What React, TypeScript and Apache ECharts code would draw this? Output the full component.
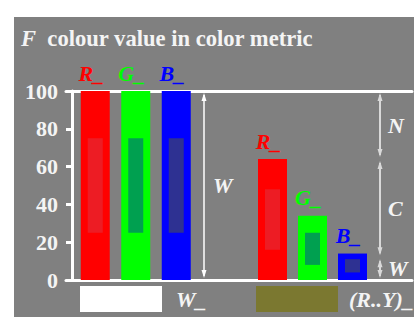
import React, { useEffect, useRef } from "react";
import * as echarts from "echarts";

// ---- data ----
const categories = ["R_", "G_", "B_"];
const barColors = ["#ff0000", "#00ff00", "#0000ff"];
const innerColors = ["#ed1c24", "#00a050", "#2e3192"];
const whiteValues = [100, 100, 100];
const whiteInnerLow = [25, 25, 25];
const whiteInnerHigh = [75, 75, 75];
const mixValues = [64, 34, 14];
const mixInnerLow = [16, 8, 4];
const mixInnerHigh = [48, 25, 11];
const yMin = 0;
const yMax = 100;
const yInterval = 20;
const rightBreaks = [100, 64, 12, 0];
const rightLabels = ["N", "C", "W"];
const legendLabels = ["W_", "(R..Y)_"];
const legendColors = ["#ffffff", "#7b7830"];

const FONT = "Liberation Serif, Times New Roman, serif";

export default function App() {
  const ref = useRef<HTMLDivElement>(null);
  useEffect(() => {
    document.body.style.margin = "0";
    const chart = echarts.init(ref.current!, null, { renderer: "svg" });

    const innerSeries = (axis: number, lo: number[], hi: number[]) => ({
      type: "custom",
      xAxisIndex: axis,
      yAxisIndex: axis,
      z: 5,
      encode: { x: 0, y: [1, 2] },
      data: lo.map((l, i) => [i, l, hi[i]]),
      renderItem: (params: any, api: any) => {
        const c = params.dataIndex;
        const p0 = api.coord([c, api.value(1)]);
        const p1 = api.coord([c, api.value(2)]);
        const w = 15;
        return {
          type: "rect",
          shape: { x: p0[0] - w / 2, y: p1[1], width: w, height: p0[1] - p1[1] },
          style: { fill: innerColors[c] },
        };
      },
    });

    const barSeries = (axis: number, values: number[]) => ({
      type: "bar",
      xAxisIndex: axis,
      yAxisIndex: axis,
      barWidth: 29,
      data: values.map((v, i) => ({
        value: v,
        itemStyle: { color: barColors[i] },
        label: { color: barColors[i] },
      })),
      label: {
        show: true,
        position: "top",
        distance: 7,
        offset: [-4, 0],
        formatter: (p: any) => categories[p.dataIndex],
        fontFamily: FONT,
        fontSize: 22,
        fontWeight: "bold",
        fontStyle: "italic",
      },
    });

    const option: any = {
      animation: false,
      backgroundColor: "#ffffff",
      grid: [
        { left: 75, width: 121.5, top: 91, height: 189 },
        { left: 252.5, width: 120, top: 91, height: 189 },
        { left: 66, right: 2, top: 91, height: 189 },
      ],
      xAxis: [
        { type: "category", gridIndex: 0, data: categories, show: false },
        { type: "category", gridIndex: 1, data: categories, show: false },
        {
          type: "value", gridIndex: 2, min: 0, max: 1, position: "bottom",
          axisLine: { show: true, lineStyle: { color: "#ffffff", width: 3 } },
          axisTick: { show: false }, axisLabel: { show: false }, splitLine: { show: false },
        },
        {
          type: "value", gridIndex: 2, min: 0, max: 1, position: "top",
          axisLine: { show: true, lineStyle: { color: "#ffffff", width: 3 } },
          axisTick: { show: false }, axisLabel: { show: false }, splitLine: { show: false },
        },
      ],
      yAxis: [
        {
          type: "value", gridIndex: 0, min: yMin, max: yMax, interval: yInterval, offset: 3,
          axisLine: { show: true, lineStyle: { color: "#ffffff", width: 3 } },
          axisTick: { show: true, length: 6, lineStyle: { color: "#ffffff", width: 3 } },
          axisLabel: {
            color: "#f4f4f4", fontFamily: FONT, fontSize: 22, fontWeight: "bold", margin: 14,
          },
          splitLine: { show: false },
        },
        { type: "value", gridIndex: 1, min: yMin, max: yMax, show: false },
        { type: "value", gridIndex: 2, min: 0, max: 1, show: false },
      ],
      series: [
        barSeries(0, whiteValues),
        innerSeries(0, whiteInnerLow, whiteInnerHigh),
        barSeries(1, mixValues),
        innerSeries(1, mixInnerLow, mixInnerHigh),
      ],
    };
    chart.setOption(option);

    const py = (v: number) => chart.convertToPixel({ yAxisIndex: 0 }, v) as number;
    const arrow = (x: number, yTop: number, yBot: number, color: string, lw: number) => {
      const hl = 8;
      const hw = 2.5;
      return [
        { type: "line", shape: { x1: x, y1: yTop + 2, x2: x, y2: yBot - 2 }, style: { stroke: color, lineWidth: lw }, z: 10 },
        { type: "polygon", shape: { points: [[x, yTop], [x - hw, yTop + hl], [x + hw, yTop + hl]] }, style: { fill: color }, z: 10 },
        { type: "polygon", shape: { points: [[x, yBot], [x - hw, yBot - hl], [x + hw, yBot - hl]] }, style: { fill: color }, z: 10 },
      ];
    };
    const textStyle = (t: string, extra: any = {}) => ({
      text: t, fill: "#f4f4f4", fontFamily: FONT, fontSize: 22, fontWeight: "bold", fontStyle: "italic",
      verticalAlign: "middle", ...extra,
    });

    const graphics: any[] = [
      { type: "rect", shape: { x: 14, y: 17, width: 400, height: 300 }, style: { fill: "#808080" }, z: -10 },
      {
        type: "text", x: 21, y: 38, z: 10,
        style: {
          text: "{i|F}  colour value in color metric",
          fill: "#f4f4f4", fontFamily: FONT, fontSize: 22.6, fontWeight: "bold", verticalAlign: "middle",
          rich: { i: { fontStyle: "italic", fontFamily: FONT, fontSize: 22.6, fontWeight: "bold", fill: "#f4f4f4" } },
        },
      },
      ...arrow(204, py(100) + 2, py(0) - 2, "#ffffff", 1.5),
      { type: "text", x: 213, y: (py(100) + py(0)) / 2, z: 10, style: textStyle("W") },
    ];
    for (let i = 0; i < rightLabels.length; i++) {
      const yt = py(rightBreaks[i]) + 2;
      const yb = py(rightBreaks[i + 1]) - 2;
      graphics.push(...arrow(380, yt, yb, "#d9d9d9", 2));
      graphics.push({ type: "text", x: 388, y: (yt + yb) / 2, z: 10, style: textStyle(rightLabels[i]) });
    }
    const legendX = [80, 256];
    const legendTextX = [176, 349];
    legendLabels.forEach((l, i) => {
      graphics.push({ type: "rect", shape: { x: legendX[i], y: 286, width: 82, height: 26 }, style: { fill: legendColors[i] } });
      graphics.push({ type: "text", x: legendTextX[i], y: 299, z: 10, style: textStyle(l) });
    });
    chart.setOption({ graphic: graphics });

    return () => chart.dispose();
  }, []);
  return <div ref={ref} style={{ width: 414, height: 317 }} />;
}
